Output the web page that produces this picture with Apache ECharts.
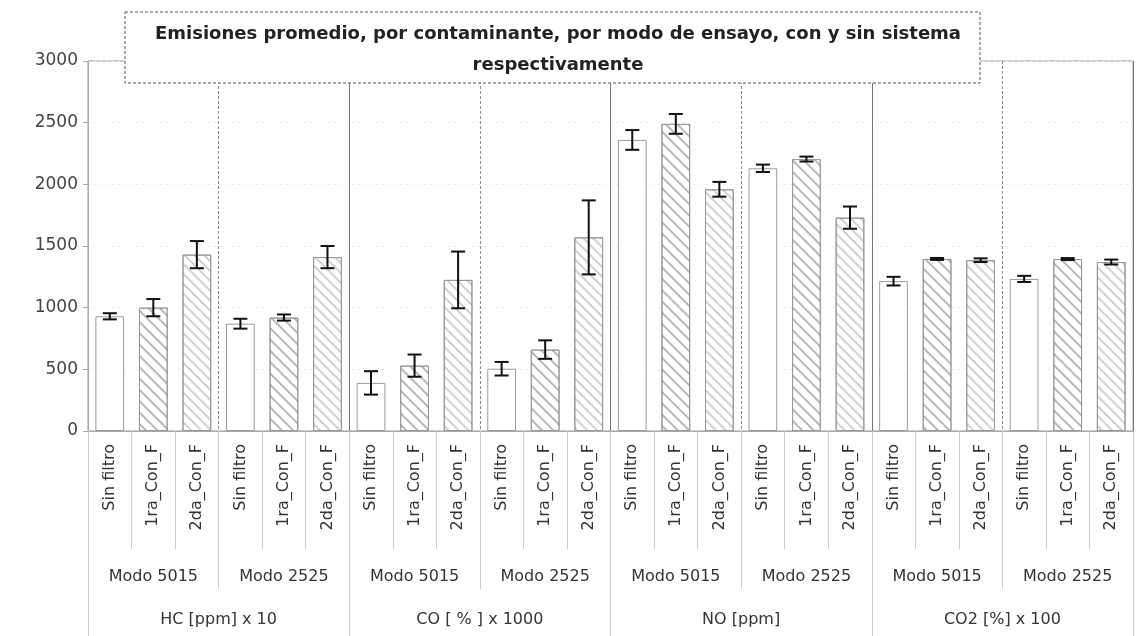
<!DOCTYPE html>
<html>
<head>
<meta charset="utf-8">
<script src="https://cdn.jsdelivr.net/npm/echarts@6/dist/echarts.min.js"></script>
<style>
  html, body { margin: 0; padding: 0; background: #fff; }
  #main { width: 1136px; height: 636px; }
</style>
</head>
<body>
<div id="main"></div>
<script>
// categorias (3 niveles del eje x)
var filtros = ['Sin filtro', '1ra_Con_F', '2da_Con_F'];
var modos = ['Modo 5015', 'Modo 2525', 'Modo 5015', 'Modo 2525', 'Modo 5015', 'Modo 2525', 'Modo 5015', 'Modo 2525'];
var contaminantes = ['HC [ppm] x 10', 'CO [ % ] x 1000', 'NO [ppm]', 'CO2 [%] x 100'];

// promedios, en el orden de las barras
var promedios = [
  930, 1000, 1430,   870, 920, 1410,
  390, 530, 1225,    505, 660, 1570,
  2360, 2490, 1960,  2130, 2205, 1730,
  1215, 1395, 1385,  1233, 1394, 1370
];
// desviacion (barra de error +/-)
var errores = [
  25, 70, 110,   40, 25, 90,
  95, 90, 230,   55, 75, 300,
  80, 80, 60,    30, 20, 90,
  35, 8, 15,     25, 8, 20
];

var yTicks = [0, 3000, 500];

var categorias = [];
modos.forEach(function () { filtros.forEach(function (f) { categorias.push(f); }); });

var tramas = {
  'Sin filtro': null,
  '1ra_Con_F': { symbol: 'rect', symbolSize: 1, color: 'rgba(0,0,0,0.28)', dashArrayX: [1, 0], dashArrayY: [2, 6], rotation: Math.PI / 4 },
  '2da_Con_F': { symbol: 'rect', symbolSize: 1, color: 'rgba(0,0,0,0.18)', dashArrayX: [1, 0], dashArrayY: [2, 5], rotation: Math.PI / 4 }
};

var barData = promedios.map(function (v, i) {
  var item = { value: v, itemStyle: { color: '#fff', borderColor: '#9a9a9a', borderWidth: 1 } };
  var d = tramas[categorias[i]];
  if (d) item.itemStyle.decal = d;
  return item;
});
var errData = promedios.map(function (v, i) {
  return [i, v - errores[i], v + errores[i]];
});

var myChart = echarts.init(document.getElementById('main'));
var option = {
  backgroundColor: '#fff',
  animation: false,
  textStyle: { fontFamily: 'DejaVu Sans, sans-serif' },
  title: {
    text: 'Emisiones promedio, por contaminante, por modo de ensayo, con y sin sistema\nrespectivamente',
    left: 553,
    top: 14,
    textAlign: 'center',
    z: 10,
    textStyle: {
      fontFamily: 'DejaVu Sans',
      fontWeight: 'bold',
      fontSize: 18,
      lineHeight: 31,
      color: '#222'
    }
  },
  graphic: [{
    type: 'rect',
    z: 8,
    shape: { x: 125, y: 12, width: 855, height: 71 },
    style: { fill: '#fff', stroke: '#555', lineWidth: 1, lineDash: [3, 2] }
  }],
  grid: {
    left: 88, right: 3, top: 61, bottom: 205,
    show: true, borderColor: '#999', borderWidth: 1
  },
  xAxis: [
    {
      type: 'category',
      data: categorias,
      position: 'bottom',
      axisLine: { show: true, lineStyle: { color: '#aaa' } },
      axisTick: { show: true, interval: 0, length: 118, lineStyle: { color: '#ccc' } },
      axisLabel: { interval: 0, rotate: 90, margin: 13, fontSize: 16, color: '#333' },
      splitLine: { show: false }
    },
    {
      type: 'category',
      data: modos,
      position: 'bottom',
      offset: 0,
      axisLine: { show: false },
      axisTick: { show: true, interval: 0, length: 158, lineStyle: { color: '#ccc' } },
      axisLabel: { interval: 0, margin: 138, fontSize: 16, color: '#333' },
      splitLine: { show: true, interval: 0, lineStyle: { color: '#8c8c8c', type: [3, 2] } }
    },
    {
      type: 'category',
      data: contaminantes,
      position: 'bottom',
      offset: 0,
      axisLine: { show: false },
      axisTick: { show: true, interval: 0, length: 210, lineStyle: { color: '#ccc' } },
      axisLabel: { interval: 0, margin: 181, fontSize: 16, color: '#333' },
      splitLine: { show: true, interval: 0, lineStyle: { color: '#777', width: 1 } }
    }
  ],
  yAxis: {
    type: 'value',
    min: yTicks[0],
    max: yTicks[1],
    interval: yTicks[2],
    axisLine: { show: true, lineStyle: { color: '#aaa' } },
    axisTick: { show: true, length: 5, lineStyle: { color: '#aaa' } },
    axisLabel: { fontSize: 17, color: '#444', margin: 10, formatter: function (v) { return String(v); } },
    splitLine: { show: true, lineStyle: { color: '#ececec', type: [2, 4] } }
  },
  series: [
    {
      name: 'Promedio',
      type: 'bar',
      xAxisIndex: 0,
      barWidth: '66%',
      data: barData
    },
    {
      name: 'Error',
      type: 'custom',
      xAxisIndex: 0,
      z: 5,
      data: errData,
      encode: { x: 0, y: [1, 2] },
      renderItem: function (params, api) {
        var x = api.value(0);
        var lo = api.coord([x, api.value(1)]);
        var hi = api.coord([x, api.value(2)]);
        var w = 7;
        var st = { stroke: '#111', lineWidth: 2 };
        return {
          type: 'group',
          children: [
            { type: 'line', shape: { x1: lo[0], y1: lo[1], x2: hi[0], y2: hi[1] }, style: st },
            { type: 'line', shape: { x1: lo[0] - w, y1: lo[1], x2: lo[0] + w, y2: lo[1] }, style: st },
            { type: 'line', shape: { x1: hi[0] - w, y1: hi[1], x2: hi[0] + w, y2: hi[1] }, style: st }
          ]
        };
      }
    }
  ]
};
myChart.setOption(option);
</script>
</body>
</html>
